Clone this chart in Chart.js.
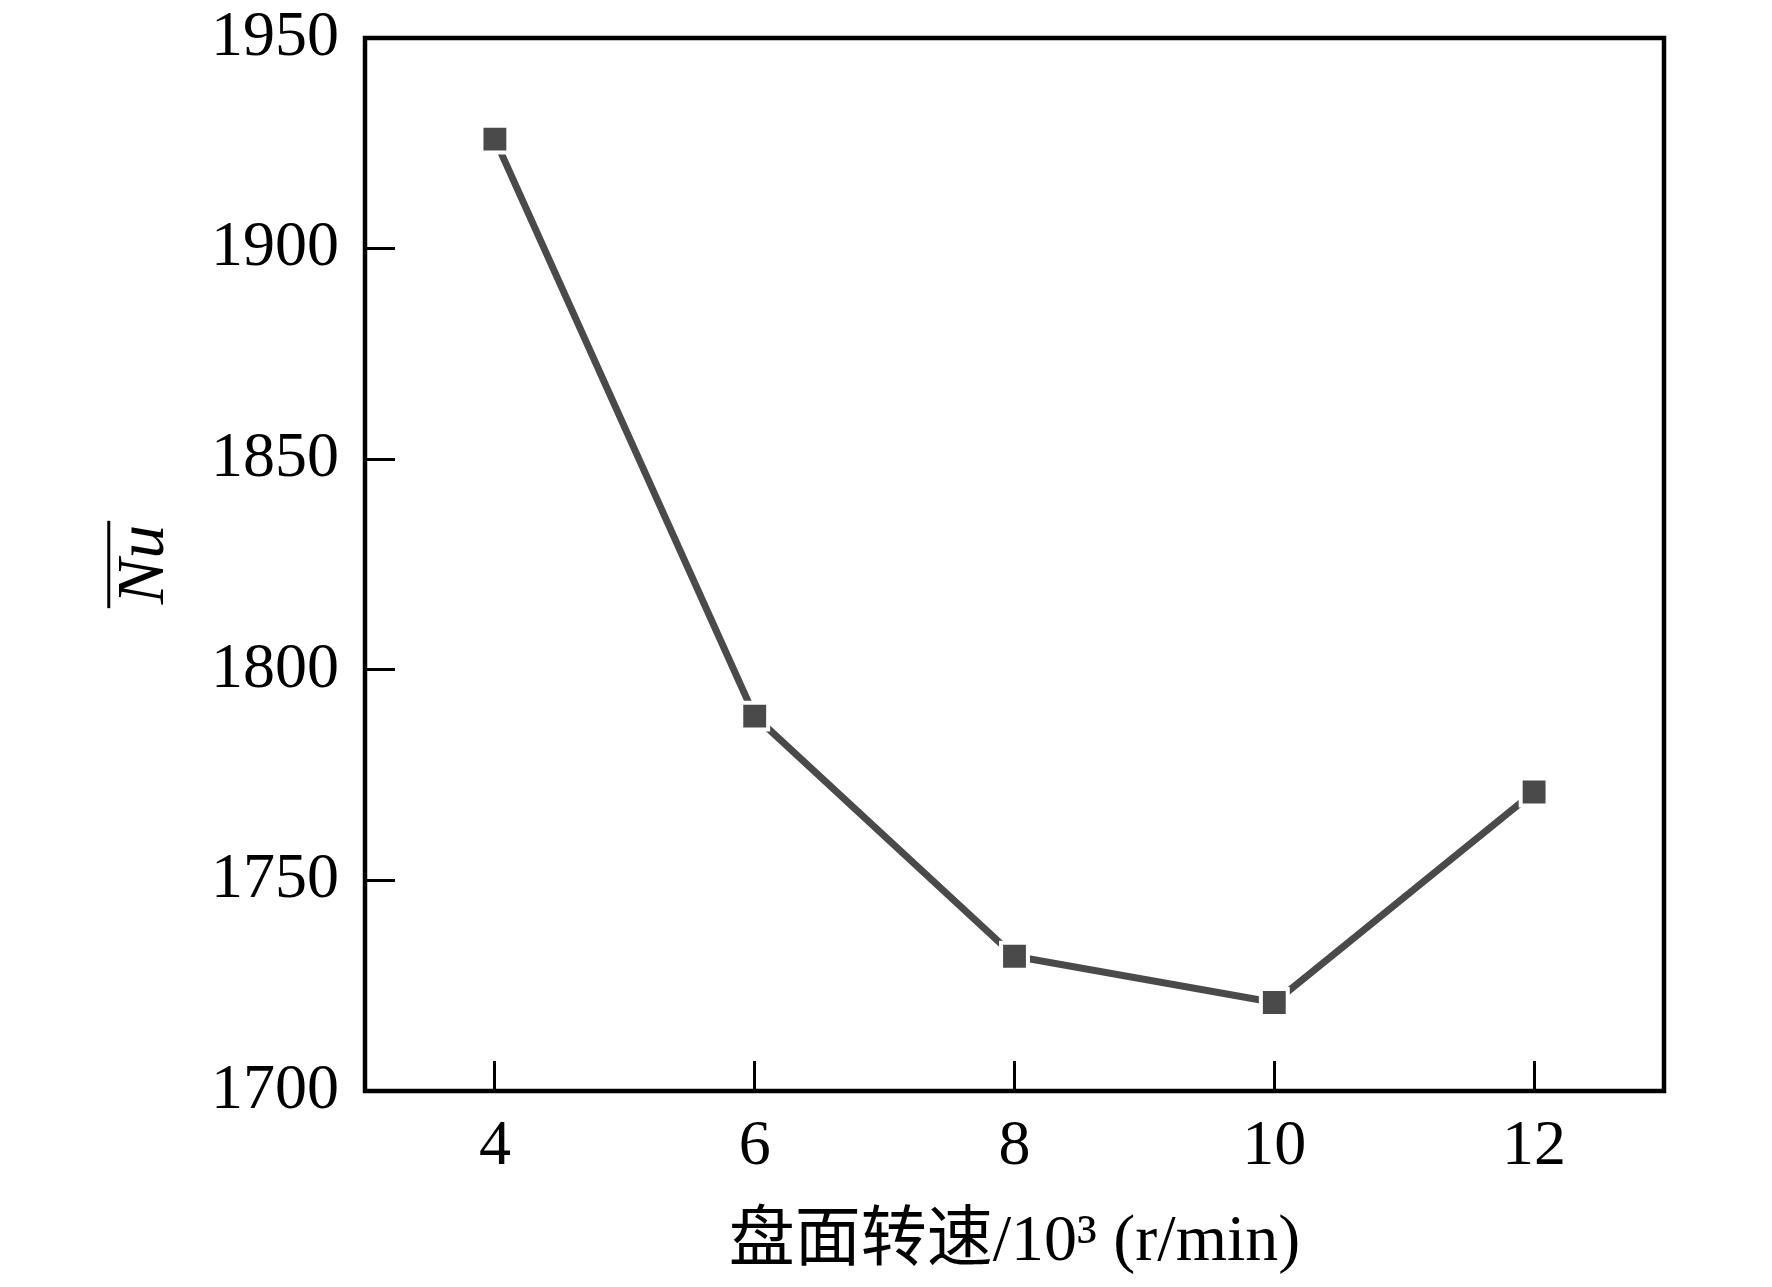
<!DOCTYPE html>
<html>
<head>
<meta charset="utf-8">
<script src="https://cdn.jsdelivr.net/npm/chart.js@4"></script>
<style>
  html, body { margin: 0; padding: 0; background: #fff; }
  #wrap { width: 1772px; height: 1287px; }
</style>
</head>
<body>
<div id="wrap"><canvas id="nuChart"></canvas></div>
<script>
// données
const speeds = [4, 6, 8, 10, 12];              // 盘面转速 /10^3 r/min
const nuValues = [1926, 1789, 1732, 1721, 1771];
const xTicks = [4, 6, 8, 10, 12];
const yTicks = [1700, 1750, 1800, 1850, 1900, 1950];
const xTitle = '盘面转速/10³ (r/min)';
const yTitle = 'Nu';

const serif = "'Liberation Serif', 'Times New Roman', 'Noto Sans CJK SC', serif";
const ink = '#000';
const grey = '#4a4a4a';

// cadre complet autour de la zone du graphique
const frame = {
    id: 'frame',
    afterDraw(chart) {
        const a = chart.chartArea;
        const ctx = chart.ctx;
        ctx.save();
        ctx.strokeStyle = ink;
        ctx.lineWidth = 4.5;
        ctx.strokeRect(a.left, a.top, a.right - a.left, a.bottom - a.top);
        ctx.restore();
    }
};

// barre au-dessus de Nu (titre de l'axe y)
const overline = {
    id: 'overline',
    afterDraw(chart) {
        const s = chart.scales.y;
        const t = s.options.title;
        const size = t.font.size;
        const ctx = chart.ctx;
        ctx.save();
        ctx.font = 'italic ' + size + 'px ' + serif;
        const w = ctx.measureText(yTitle).width;
        const cx = s.left + size * 1.2 / 2 + t.padding.top;
        const cy = (s.top + s.bottom) / 2;
        const x = cx - size * 0.53;
        ctx.strokeStyle = ink;
        ctx.lineWidth = 3;
        ctx.beginPath();
        ctx.moveTo(x, cy - w / 2 - 4);
        ctx.lineTo(x, cy + w / 2 + 4);
        ctx.stroke();
        ctx.restore();
    }
};

const ctx = document.getElementById('nuChart').getContext('2d');
const nuChart = new Chart(ctx, {
    type: 'line',
    data: {
        datasets: [{
            data: speeds.map((s, i) => ({ x: s, y: nuValues[i] })),
            borderColor: grey,
            borderWidth: 7,
            backgroundColor: grey,
            pointStyle: 'rect',
            pointRadius: 19,
            pointBorderColor: '#fff',
            pointBorderWidth: 4,
            pointBackgroundColor: grey,
            fill: false,
            tension: 0
        }]
    },
    options: {
        responsive: true,
        maintainAspectRatio: false,
        animation: false,
        devicePixelRatio: 1,
        layout: { padding: { top: 38, right: 108, bottom: 0, left: 0 } },
        plugins: {
            legend: { display: false },
            tooltip: { enabled: false }
        },
        scales: {
            x: {
                type: 'linear',
                min: 3,
                max: 13,
                afterBuildTicks: s => { s.ticks = xTicks.map(v => ({ value: v })); },
                afterFit: s => { s.height = 196; s.paddingLeft = 0; s.paddingRight = 0; },
                border: { display: false },
                grid: {
                    drawOnChartArea: false,
                    tickLength: -30,
                    tickWidth: 3,
                    tickColor: ink
                },
                ticks: {
                    color: ink,
                    padding: 48,
                    maxRotation: 0,
                    callback: v => String(v),
                    font: { family: serif, size: 64 }
                },
                title: {
                    display: true,
                    text: xTitle,
                    color: ink,
                    padding: { top: 0, bottom: 5 },
                    font: { family: serif, size: 66 }
                }
            },
            y: {
                min: 1700,
                max: 1950,
                afterBuildTicks: s => { s.ticks = yTicks.map(v => ({ value: v })); },
                afterFit: s => { s.width = 365; s.paddingTop = 0; s.paddingBottom = 0; },
                border: { display: false },
                grid: {
                    drawOnChartArea: false,
                    tickLength: -30,
                    tickWidth: 3,
                    tickColor: ink
                },
                ticks: {
                    color: ink,
                    padding: 56,
                    callback: v => String(v),
                    font: { family: serif, size: 64 }
                },
                title: {
                    display: true,
                    text: yTitle,
                    color: ink,
                    padding: { top: 104, bottom: 0 },
                    font: { family: serif, size: 68, style: 'italic' }
                }
            }
        }
    },
    plugins: [frame, overline]
});
</script>
</body>
</html>
